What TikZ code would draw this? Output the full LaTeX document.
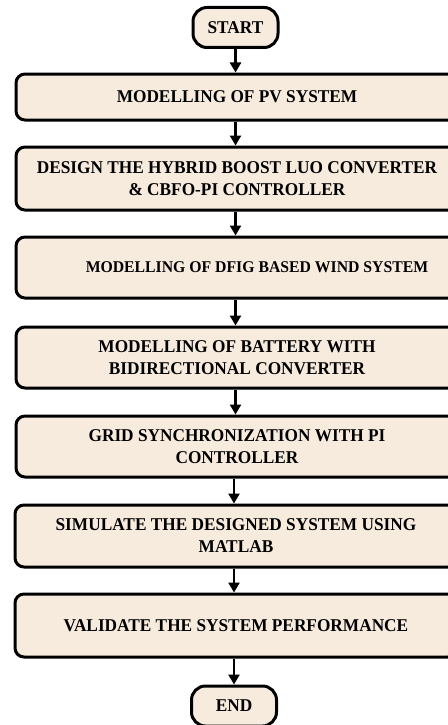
\documentclass[tikz,border=0pt]{standalone}
\usepackage{fontspec}
\setmainfont{Liberation Serif}[FakeStretch=0.96]
\usetikzlibrary{arrows.meta}
\definecolor{boxfill}{RGB}{247,235,222}
\tikzset{
  stepbox/.style={draw=black, line width=3pt, fill=boxfill, rounded corners=9pt,
    minimum width=442pt, minimum height=#1, align=center, inner sep=0pt,
    font=\fontsize{18}{22}\selectfont\bfseries},
  stepbox/.default=47pt,
  terminal/.style={draw=black, line width=3pt, fill=boxfill, rounded corners=14pt,
    minimum width=85pt, minimum height=40pt, inner sep=0pt,
    font=\fontsize{18}{22}\selectfont\bfseries},
  flow/.style={line width=2.6pt, -{Triangle[width=11pt,length=10pt]}}
}
\begin{document}
\begin{tikzpicture}[x=1pt,y=-1pt]
\useasboundingbox (0,0) rectangle (447,725);
\node[terminal] (start) at (235.5,27.5) {START};
\node[stepbox=46pt] (b1) at (237,97) {MODELLING OF PV SYSTEM};
\node[stepbox=63pt] (b2) at (237,178.5) {DESIGN THE HYBRID BOOST LUO CONVERTER\\ \& CBFO-PI CONTROLLER};
\node[stepbox=61pt] (b3) at (237,267.5) {\hspace*{40pt}{\fontsize{16.4}{20}\selectfont MODELLING OF DFIG BASED WIND SYSTEM}};
\node[stepbox=61pt] (b4) at (237,357.5) {MODELLING OF BATTERY WITH\\ BIDIRECTIONAL CONVERTER};
\node[stepbox=61pt] (b5) at (237,446.5) {GRID SYNCHRONIZATION WITH PI\\ CONTROLLER};
\node[stepbox=62pt] (b6) at (236,536) {SIMULATE THE DESIGNED SYSTEM USING\\ MATLAB};
\node[stepbox=63pt] (b7) at (236,625.5) {VALIDATE THE SYSTEM PERFORMANCE};
\node[terminal] (end) at (234,706) {END};
\draw[flow] (start.south) -- (start.south |- b1.north);
\draw[flow] (b1.south -| start) -- (b2.north -| start);
\draw[flow] (b2.south -| start) -- (b3.north -| start);
\draw[flow] (b3.south -| start) -- (b4.north -| start);
\draw[flow] (b4.south -| start) -- (b5.north -| start);
\draw[flow] (b5.south -| end) -- (b6.north -| end);
\draw[flow] (b6.south -| end) -- (b7.north -| end);
\draw[flow] (b7.south -| end) -- (end.north);
\end{tikzpicture}
\end{document}
